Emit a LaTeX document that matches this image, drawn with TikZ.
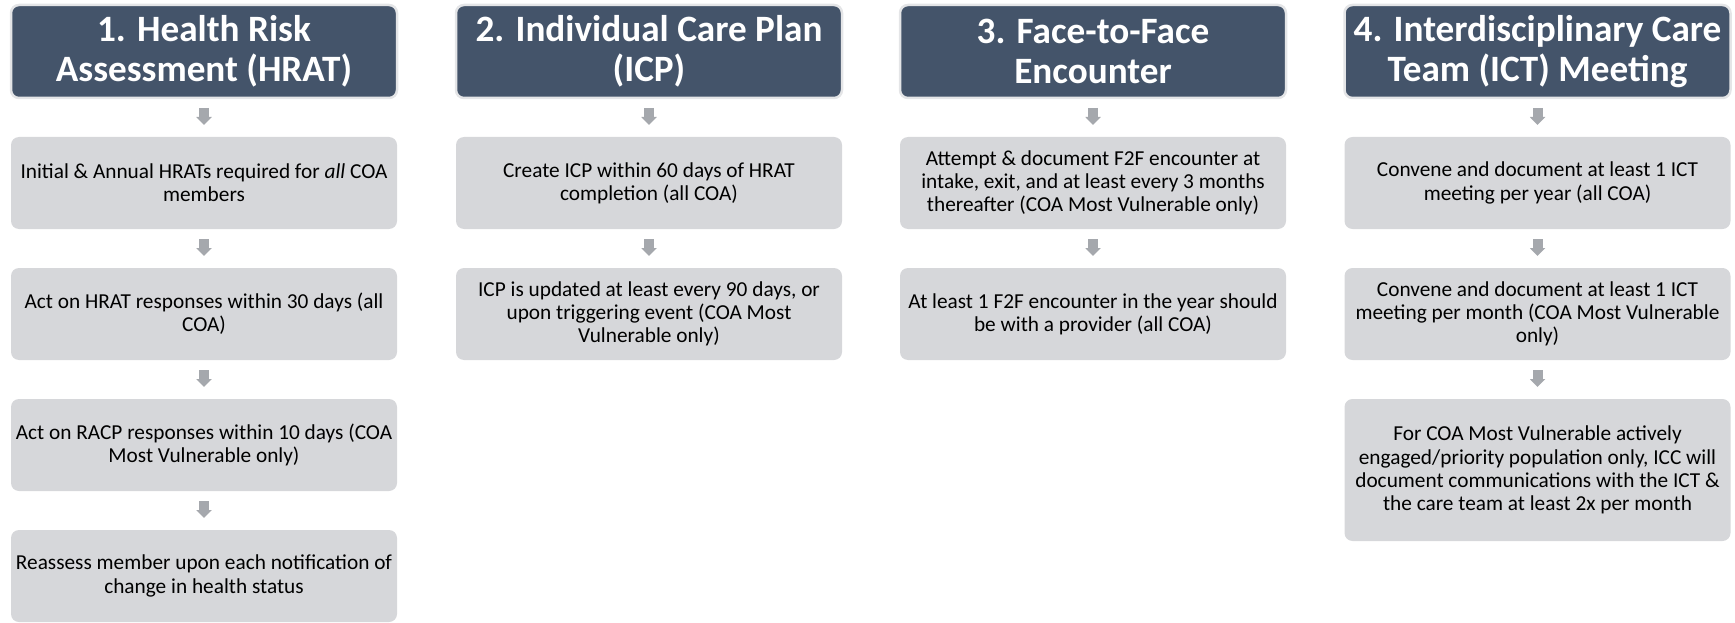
\documentclass[tikz,border=0pt]{standalone}
\usepackage{fontspec}
\setmainfont{Carlito}
\usepackage{xcolor}
\usepackage{tikz}
\usetikzlibrary{arrows.meta,positioning}

\definecolor{hdrblue}{HTML}{44546A}
\definecolor{hdredge}{HTML}{E4E5E7}
\definecolor{boxgray}{HTML}{D6D7DA}
\definecolor{arrgray}{HTML}{A5A8AD}

\begin{document}
\begin{tikzpicture}[
  x=1pt, y=1pt,
  >={Triangle[width=15pt,length=8pt]},
  every node/.style={align=center, outer sep=0pt},
  node distance=39pt,
  arr/.style={->, draw=arrgray, line width=10pt, shorten <=10pt, shorten >=12pt},
  headbox/.style={rectangle, rounded corners=8pt, draw=hdredge, fill=hdrblue, line width=2.5pt, text=white, inner sep=2pt, minimum width=386pt, minimum height=93pt, font=\fontsize{37.2}{40.5}\selectfont\bfseries},
  stepbox/.style={rectangle, rounded corners=8pt, fill=boxgray, text=black, inner xsep=1pt, inner ysep=4pt, minimum width=386pt, minimum height=92pt, font=\fontsize{21.3}{23.2}\selectfont}
]

  \useasboundingbox (0,0) rectangle (1735,-623);

  % Column 1: Health Risk Assessment
  \node[headbox] (hrat) at (204,-51.5) {1. Health Risk\\Assessment (HRAT)};
  \node[stepbox, below=of hrat] (hrat1) {Initial \& Annual HRATs required for \textit{all} COA\\members};
  \node[stepbox, below=of hrat1] (hrat2) {Act on HRAT responses within 30 days (all\\COA)};
  \node[stepbox, below=of hrat2] (hrat3) {Act on RACP responses within 10 days (COA\\Most Vulnerable only)};
  \node[stepbox, below=of hrat3] (hrat4) {Reassess member upon each notification of\\change in health status};

  % Column 2: Individual Care Plan
  \node[headbox] (icp) at (649,-51.5) {2. Individual Care Plan\\(ICP)};
  \node[stepbox, below=of icp] (icp1) {Create ICP within 60 days of HRAT\\completion (all COA)};
  \node[stepbox, below=of icp1] (icp2) {ICP is updated at least every 90 days, or\\upon triggering event (COA Most\\Vulnerable only)};

  % Column 3: Face-to-Face Encounter
  \node[headbox] (ftf) at (1093,-51.5) {3. Face-to-Face\\Encounter};
  \node[stepbox, below=of ftf] (ftf1) {Attempt \& document F2F encounter at\\intake, exit, and at least every 3 months\\thereafter (COA Most Vulnerable only)};
  \node[stepbox, below=of ftf1] (ftf2) {At least 1 F2F encounter in the year should\\be with a provider (all COA)};

  % Column 4: Interdisciplinary Care Team Meeting
  \node[headbox] (ict) at (1537.5,-51.5) {4. Interdisciplinary Care\\Team (ICT) Meeting};
  \node[stepbox, below=of ict] (ict1) {Convene and document at least 1 ICT\\meeting per year (all COA)};
  \node[stepbox, below=of ict1] (ict2) {Convene and document at least 1 ICT\\meeting per month (COA Most Vulnerable\\only)};
  \node[stepbox, below=of ict2, minimum height=142pt] (ict3) {For COA Most Vulnerable actively\\engaged/priority population only, ICC will\\document communications with the ICT \&\\the care team at least 2x per month};

  % Connecting Arrows
  \draw[arr] (hrat) -- (hrat1);
  \draw[arr] (hrat1) -- (hrat2);
  \draw[arr] (hrat2) -- (hrat3);
  \draw[arr] (hrat3) -- (hrat4);
  \draw[arr] (icp) -- (icp1);
  \draw[arr] (icp1) -- (icp2);
  \draw[arr] (ftf) -- (ftf1);
  \draw[arr] (ftf1) -- (ftf2);
  \draw[arr] (ict) -- (ict1);
  \draw[arr] (ict1) -- (ict2);
  \draw[arr] (ict2) -- (ict3);

\end{tikzpicture}
\end{document}
